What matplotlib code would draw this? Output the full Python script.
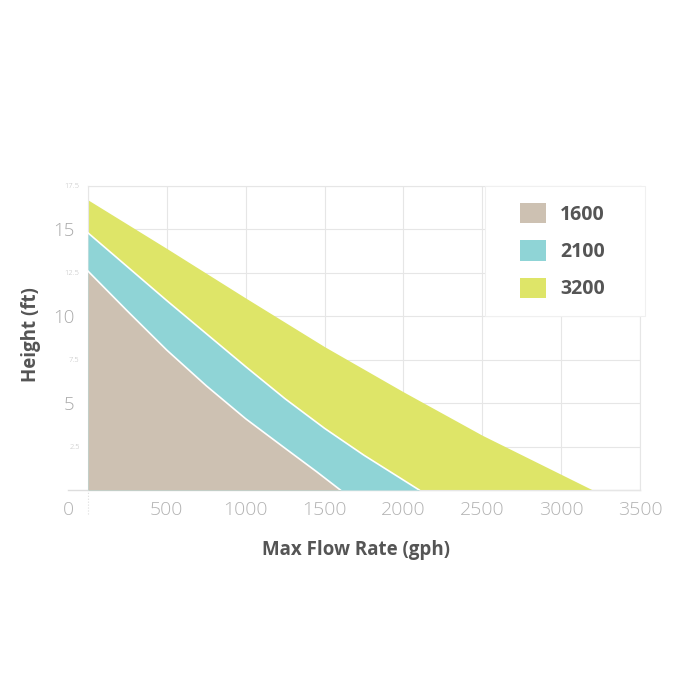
import matplotlib.pyplot as plt
from matplotlib.patches import Patch, Rectangle
from matplotlib.transforms import ScaledTranslation

# pump curves (flow in gph, head in ft)
flow_1600 = [0, 250, 500, 750, 1000, 1250, 1450, 1600]
head_1600 = [12.6, 10.3, 8.05, 6.0, 4.1, 2.4, 1.05, 0]

flow_2100 = [0, 250, 500, 750, 1000, 1250, 1500, 1750, 2100]
head_2100 = [14.8, 12.85, 10.9, 9.0, 7.1, 5.25, 3.55, 2.0, 0]

flow_3200 = [0, 500, 1000, 1500, 2000, 2500, 3000, 3200]
head_3200 = [16.7, 13.9, 11.05, 8.25, 5.65, 3.15, 0.9, 0]

series_names = ["1600", "2100", "3200"]
series_colors = ["#cdc1b2", "#8fd4d6", "#dee568"]

x_ticks = [0, 500, 1000, 1500, 2000, 2500, 3000, 3500]
y_major = [5, 10, 15]
y_minor = [2.5, 7.5, 12.5, 17.5]

plt.rcParams['font.family'] = ['Open Sans', 'DejaVu Sans']

fig = plt.figure(figsize=(7, 7), dpi=100)
ax = fig.add_axes([88 / 700, 1 - 490 / 700, 552 / 700, 304 / 700])

# largest first so the smaller ones sit on top
ax.fill_between(flow_3200, head_3200, 0, color=series_colors[2], lw=0, zorder=2)
ax.fill_between(flow_2100, head_2100, 0, color=series_colors[1], lw=0, zorder=3)
ax.plot(flow_2100, head_2100, color="white", lw=1.2, zorder=3.5, solid_joinstyle="round")
ax.fill_between(flow_1600, head_1600, 0, color=series_colors[0], lw=0, zorder=4)
ax.plot(flow_1600, head_1600, color="white", lw=1.2, zorder=4.5, solid_joinstyle="round")

ax.set_xlim(0, 3500)
ax.set_ylim(0, 17.5)

ax.set_xticks(x_ticks)
ax.set_xticklabels([str(v) for v in x_ticks])
ax.set_yticks(y_major)
ax.set_yticklabels([str(v) for v in y_major])
ax.set_yticks(y_minor, minor=True)
ax.set_yticklabels([str(v) for v in y_minor], minor=True)

ax.tick_params(axis="x", length=0, pad=8, labelsize=14, labelcolor="#b3b3b3")
ax.tick_params(axis="y", which="major", length=0, pad=10, labelsize=13.5, labelcolor="#aaaaaa")
ax.tick_params(axis="y", which="minor", length=0, pad=6, labelsize=5.5, labelcolor="#c0c0c0")
for lab in ax.get_xticklabels() + ax.get_yticklabels(which="both"):
    lab.set_fontweight("light")

# the "0" label sits left of the axis in the original
lab0 = ax.get_xticklabels()[0]
lab0.set_transform(lab0.get_transform() + ScaledTranslation(-20 / 100, 0, fig.dpi_scale_trans))

ax.grid(True, which="both", color="#e6e6e6", lw=0.8, zorder=0)
ax.set_axisbelow(True)
for s in ax.spines.values():
    s.set_color("#e6e6e6")
    s.set_linewidth(0.8)
ax.axhline(0, xmin=-0.037, xmax=1, color="#dddddd", lw=1, clip_on=False, zorder=1)
ax.axvline(0, ymin=-0.08, ymax=0, color="#dddddd", lw=0.8, ls=":", clip_on=False)

ax.set_xlabel("Max Flow Rate (gph)", fontsize=13.5, fontweight="bold", color="#555555")
ax.xaxis.set_label_coords(0.485, -0.165)
ax.set_ylabel("Height (ft)", fontsize=13.5, fontweight="bold", color="#555555")
ax.yaxis.set_label_coords(-0.085, 0.51)

# white panel behind the legend hides the grid there
ax.add_patch(Rectangle((0.719, 0.572), 0.29, 0.428, transform=ax.transAxes,
                       facecolor="white", edgecolor="#f0f0f0", lw=0.8,
                       clip_on=False, zorder=6))

handles = [Patch(facecolor=c, edgecolor="none") for c in series_colors]
leg = ax.legend(handles, series_names, loc="upper left", bbox_to_anchor=(0.783, 0.944),
                frameon=False, borderpad=0, labelspacing=0.8, handlelength=1.34,
                handleheight=1.24, handletextpad=0.72, borderaxespad=0,
                prop={"size": 14, "weight": "bold"})
for t in leg.get_texts():
    t.set_color("#555555")
leg.set_zorder(10)

fig.savefig("out.png", dpi=100, facecolor="white")
